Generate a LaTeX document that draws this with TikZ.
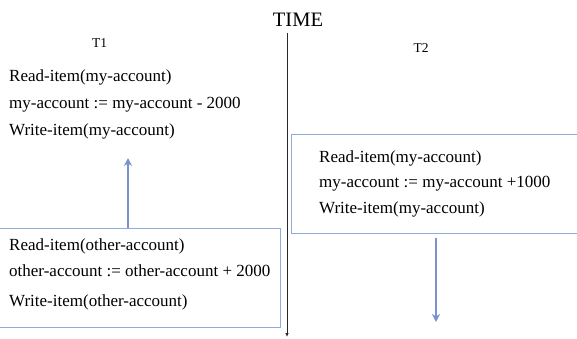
\documentclass[tikz,border=0pt]{standalone}
\usepackage{fontspec}
\setmainfont{Liberation Serif}
\usetikzlibrary{arrows.meta}
\definecolor{boxline}{RGB}{143,170,220}
\definecolor{arrblue}{RGB}{122,146,204}
\definecolor{axisgray}{RGB}{40,40,40}
\begin{document}
\begin{tikzpicture}[x=1pt,y=-1pt,
  txt/.style={anchor=base west,inner sep=0pt,font=\fontsize{17}{20}\selectfont},
  lbl/.style={anchor=base,inner sep=0pt,font=\fontsize{13.5}{16}\selectfont},
  boxshape/.style={draw=boxline,line width=0.9pt,fill=white,inner sep=0pt,anchor=north west},
  bluearrow/.style={draw=arrblue,line width=2.2pt,-{Stealth[length=8pt,width=8pt,inset=2.5pt]}},
  timeaxis/.style={draw=axisgray,line width=0.9pt,-{Latex[length=4pt,width=3.5pt]}}]
\useasboundingbox (0,0) rectangle (577,338);
% title and axis
\node[anchor=base,inner sep=0pt,font=\fontsize{20.5}{24}\selectfont] (time) at (298,26) {TIME};
\coordinate (ttop) at (287,33);
\coordinate (tbot) at (287,337);
\draw[timeaxis] (ttop) -- (tbot);
\node[lbl] (t1) at (99.5,47) {T1};
\node[lbl] (t2) at (421,52) {T2};
% T1 top text
\node[txt] (a1) at (9,81) {Read-item(my-account)};
\node[txt] (a2) at (9,108) {my-account := my-account - 2000};
\node[txt] (a3) at (9,135) {Write-item(my-account)};
% left box
\node[boxshape,minimum width=283pt,minimum height=99pt] (lbox) at (-3,228) {};
\node[txt] (b1) at (9,250) {Read-item(other-account)};
\node[txt] (b2) at (9,276) {other-account := other-account + 2000};
\node[txt] (b3) at (9,306) {Write-item(other-account)};
% right box
\node[boxshape,minimum width=292pt,minimum height=99pt] (rbox) at (291,134) {};
\node[txt] (c1) at (319,162) {Read-item(my-account)};
\node[txt] (c2) at (319,187) {my-account := my-account +1000};
\node[txt] (c3) at (319,213) {Write-item(my-account)};
% arrows
\coordinate (upend) at (128,158);
\draw[bluearrow] (upend |- lbox.north) -- (upend);
\coordinate (dstart) at (436,238);
\coordinate (dend) at (436,322);
\draw[bluearrow] (dstart) -- (dend);
\end{tikzpicture}
\end{document}
